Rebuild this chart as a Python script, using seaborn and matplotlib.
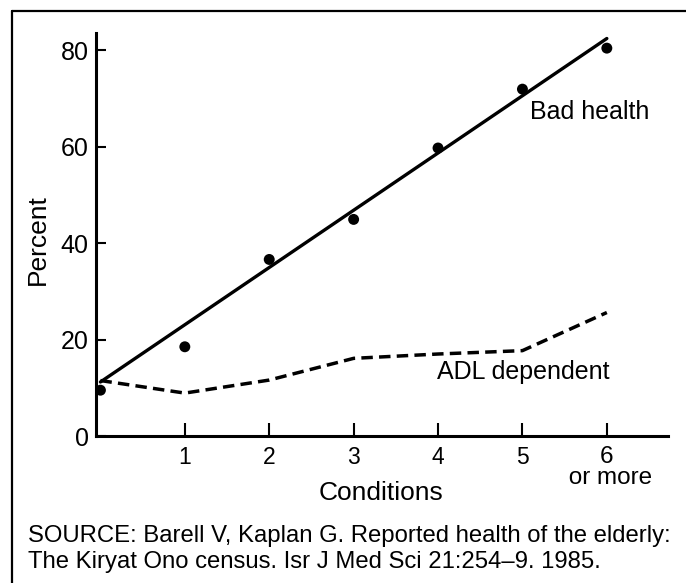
import matplotlib
matplotlib.use("Agg")
import matplotlib.pyplot as plt
from matplotlib.lines import Line2D
import seaborn as sns
import pandas as pd

# values
conditions = [0, 1, 2, 3, 4, 5, 6]
bad_health = [9.5, 18.5, 36.6, 44.9, 59.7, 71.9, 80.4]
adl_dependent = [11.5, 8.9, 11.6, 16.1, 17.0, 17.7, 25.6]
fit_x = [0, 6]
fit_y = [11.2, 82.4]
xtick_vals = [1, 2, 3, 4, 5, 6]
xtick_labels = ["1", "2", "3", "4", "5", "6\n or more"]
ytick_vals = [0, 20, 40, 60, 80]

df = pd.DataFrame({"cond": conditions, "bad": bad_health, "adl": adl_dependent})
fit = pd.DataFrame({"x": fit_x, "y": fit_y})

sns.set_style("ticks")
plt.rcParams["font.family"] = ["Liberation Sans", "DejaVu Sans"]
for k in ["text.color", "axes.labelcolor", "xtick.color", "ytick.color", "axes.edgecolor"]:
    plt.rcParams[k] = "black"

fig = plt.figure(figsize=(6.86, 5.83), dpi=100)
ax = fig.add_axes([0.1395, 0.2521, 0.8343, 0.6918])

sns.lineplot(data=fit, x="x", y="y", ax=ax, color="black", lw=2.4)
sns.lineplot(data=df, x="cond", y="adl", ax=ax, color="black", lw=2.5,
             linestyle=(0, (3.3, 1.8)))
sns.scatterplot(data=df, x="cond", y="bad", ax=ax, color="black", s=62,
                edgecolor="none", zorder=3)

ax.set_xlim(-0.056, 6.725)
ax.set_ylim(0, 83.6)
ax.set_xticks(xtick_vals)
ax.set_xticklabels(xtick_labels)
ax.set_yticks(ytick_vals)
ax.tick_params(axis="x", direction="in", length=9.5, width=1.5, labelsize=16.5, pad=7)
ax.tick_params(axis="y", direction="in", length=7.4, width=1.5, labelsize=18, pad=5)
last = ax.get_xticklabels()[-1]
last.set_linespacing(0.95)
last.set_fontsize(17.5)
sns.despine(ax=ax)
for s in ["left", "bottom"]:
    ax.spines[s].set_linewidth(2.2)

ax.set_xlabel("")
ax.set_ylabel("")
ax.text(-0.1008, 0.486, "Percent", transform=ax.transAxes, rotation=90,
        ha="center", va="center", fontsize=19)
ax.text(0.498, -0.1116, "Conditions", transform=ax.transAxes,
        ha="center", va="top", fontsize=19)
ax.text(5.09, 65.7, "Bad health", ha="left", va="baseline", fontsize=18)
ax.text(3.99, 11.75, "ADL dependent", ha="left", va="baseline", fontsize=18)

fig.text(28.3 / 686, 1 - 541.7 / 583,
         "SOURCE: Barell V, Kaplan G. Reported health of the elderly:",
         ha="left", va="baseline", fontsize=17.2)
fig.text(28.3 / 686, 1 - 568.3 / 583,
         "The Kiryat Ono census. Isr J Med Sci 21:254\u20139. 1985.",
         ha="left", va="baseline", fontsize=17.2)

# frame of the original figure box (only top and left edges are in view)
fig.add_artist(Line2D([0.017, 1.0], [0.9816, 0.9816], color="black", lw=1.6))
fig.add_artist(Line2D([0.017, 0.017], [0.0, 0.9816], color="black", lw=1.6))

fig.savefig("out.png", dpi=100)
